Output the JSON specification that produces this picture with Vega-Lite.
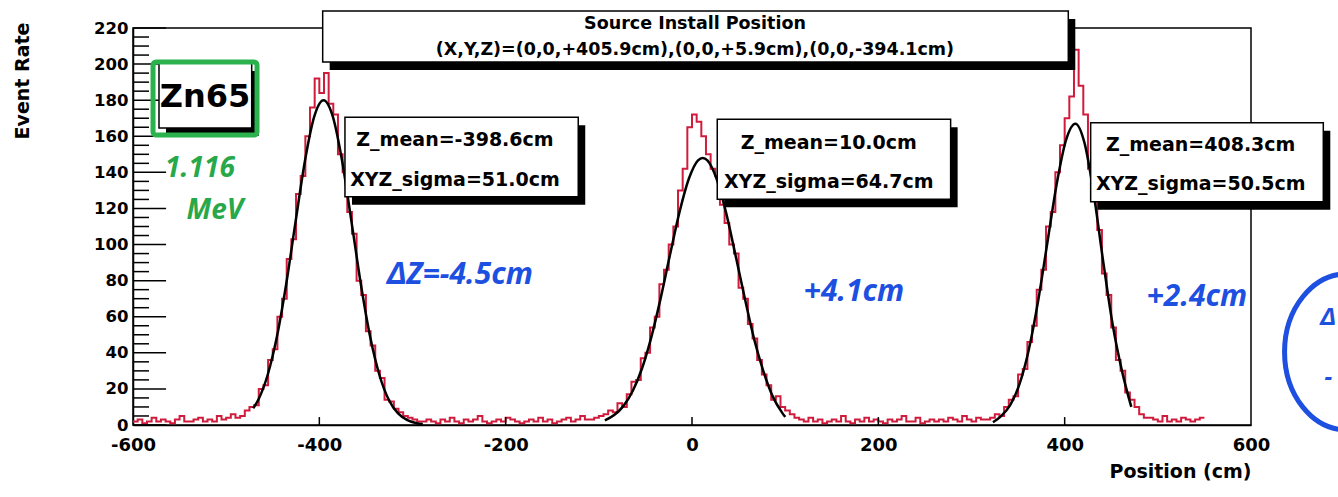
{
"$schema":"https://vega.github.io/schema/vega-lite/v6.json",
"width":1118,"height":397,
"autosize":{"type":"none"},
"padding":{"left":133,"top":28,"right":87,"bottom":72},
"background":"white",
"config":{"font":"DejaVu Sans","view":{"stroke":"#000","strokeWidth":1.5},
"axis":{"labelFont":"DejaVu Sans","labelFontWeight":"bold","labelColor":"#000","titleFont":"DejaVu Sans","titleFontWeight":"bold","titleColor":"#000","domainColor":"#000","domainWidth":1.5,"ticks":false,"grid":false,"labelOverlap":false,"labelBound":false}},
"datasets":{
"hist":[
{"x":-600,"y":2},{"x":-595,"y":3},{"x":-590,"y":1},{"x":-585,"y":2},{"x":-580,"y":4},{"x":-575,"y":2},{"x":-570,"y":3},{"x":-565,"y":2},{"x":-560,"y":1},{"x":-555,"y":3},{"x":-550,"y":5},{"x":-545,"y":2},{"x":-540,"y":2},{"x":-535,"y":3},{"x":-530,"y":4},{"x":-525,"y":2},{"x":-520,"y":3},{"x":-515,"y":2},{"x":-510,"y":5},{"x":-505,"y":3},{"x":-500,"y":4},{"x":-495,"y":6},{"x":-490,"y":4},
{"x":-485,"y":5},{"x":-480,"y":8},{"x":-475,"y":10},{"x":-470,"y":11},{"x":-465,"y":20},{"x":-460,"y":22},{"x":-455,"y":36},{"x":-450,"y":42},{"x":-445,"y":60},{"x":-440,"y":70},{"x":-435,"y":92},{"x":-430,"y":103},{"x":-425,"y":128},{"x":-420,"y":138},{"x":-415,"y":160},{"x":-410,"y":176},{"x":-405,"y":192},{"x":-400,"y":184},{"x":-395,"y":195},{"x":-390,"y":178},{"x":-385,"y":172},{"x":-380,"y":150},{"x":-375,"y":140},{"x":-370,"y":118},{"x":-365,"y":106},{"x":-360,"y":80},{"x":-355,"y":72},{"x":-350,"y":52},{"x":-345,"y":44},{"x":-340,"y":30},{"x":-335,"y":26},{"x":-330,"y":14},{"x":-325,"y":13},{"x":-320,"y":9},{"x":-315,"y":7},{"x":-310,"y":5},{"x":-305,"y":4},{"x":-300,"y":3},{"x":-295,"y":2},
{"x":-290,"y":2},{"x":-285,"y":3},{"x":-280,"y":2},{"x":-275,"y":1},{"x":-270,"y":3},{"x":-265,"y":2},{"x":-260,"y":4},{"x":-255,"y":2},{"x":-250,"y":1},{"x":-245,"y":3},{"x":-240,"y":2},{"x":-235,"y":3},{"x":-230,"y":5},{"x":-225,"y":2},{"x":-220,"y":1},{"x":-215,"y":2},{"x":-210,"y":3},{"x":-205,"y":2},{"x":-200,"y":4},{"x":-195,"y":3},{"x":-190,"y":2},{"x":-185,"y":1},{"x":-180,"y":2},{"x":-175,"y":3},{"x":-170,"y":2},{"x":-165,"y":4},{"x":-160,"y":2},{"x":-155,"y":3},{"x":-150,"y":1},{"x":-145,"y":2},{"x":-140,"y":3},{"x":-135,"y":4},{"x":-130,"y":2},{"x":-125,"y":3},{"x":-120,"y":5},{"x":-115,"y":3},
{"x":-110,"y":3},{"x":-105,"y":4},{"x":-100,"y":5},{"x":-95,"y":6},{"x":-90,"y":8},{"x":-85,"y":7},{"x":-80,"y":12},{"x":-75,"y":10},{"x":-70,"y":17},{"x":-65,"y":24},{"x":-60,"y":25},{"x":-55,"y":37},{"x":-50,"y":40},{"x":-45,"y":54},{"x":-40,"y":60},{"x":-35,"y":78},{"x":-30,"y":86},{"x":-25,"y":100},{"x":-20,"y":110},{"x":-15,"y":130},{"x":-10,"y":142},{"x":-5,"y":165},{"x":0,"y":172},{"x":5,"y":168},{"x":10,"y":160},{"x":15,"y":150},{"x":20,"y":142},{"x":25,"y":138},{"x":30,"y":122},{"x":35,"y":112},{"x":40,"y":100},{"x":45,"y":95},{"x":50,"y":76},{"x":55,"y":70},{"x":60,"y":56},{"x":65,"y":48},{"x":70,"y":36},{"x":75,"y":28},{"x":80,"y":22},{"x":85,"y":14},{"x":90,"y":16},{"x":95,"y":10},{"x":100,"y":8},{"x":105,"y":6},{"x":110,"y":4},
{"x":115,"y":3},{"x":120,"y":2},{"x":125,"y":4},{"x":130,"y":2},{"x":135,"y":3},{"x":140,"y":1},{"x":145,"y":2},{"x":150,"y":3},{"x":155,"y":2},{"x":160,"y":5},{"x":165,"y":2},{"x":170,"y":1},{"x":175,"y":3},{"x":180,"y":2},{"x":185,"y":4},{"x":190,"y":2},{"x":195,"y":3},{"x":200,"y":2},{"x":205,"y":1},{"x":210,"y":3},{"x":215,"y":2},{"x":220,"y":3},{"x":225,"y":5},{"x":230,"y":2},{"x":235,"y":2},{"x":240,"y":4},{"x":245,"y":1},{"x":250,"y":2},{"x":255,"y":3},{"x":260,"y":2},{"x":265,"y":3},{"x":270,"y":2},{"x":275,"y":4},{"x":280,"y":3},{"x":285,"y":2},{"x":290,"y":5},{"x":295,"y":3},{"x":300,"y":2},{"x":305,"y":4},{"x":310,"y":3},
{"x":315,"y":3},{"x":320,"y":4},{"x":325,"y":6},{"x":330,"y":5},{"x":335,"y":10},{"x":340,"y":14},{"x":345,"y":16},{"x":350,"y":28},{"x":355,"y":31},{"x":360,"y":46},{"x":365,"y":55},{"x":370,"y":75},{"x":375,"y":86},{"x":380,"y":110},{"x":385,"y":118},{"x":390,"y":140},{"x":395,"y":155},{"x":400,"y":170},{"x":405,"y":182},{"x":410,"y":208},{"x":415,"y":188},{"x":420,"y":172},{"x":425,"y":142},{"x":430,"y":125},{"x":435,"y":108},{"x":440,"y":84},{"x":445,"y":72},{"x":450,"y":54},{"x":455,"y":36},{"x":460,"y":30},{"x":465,"y":18},{"x":470,"y":14},{"x":475,"y":10},{"x":480,"y":6},{"x":485,"y":4},
{"x":490,"y":4},{"x":495,"y":3},{"x":500,"y":2},{"x":505,"y":5},{"x":510,"y":2},{"x":515,"y":3},{"x":520,"y":2},{"x":525,"y":4},{"x":530,"y":3},{"x":535,"y":2},{"x":540,"y":3},{"x":545,"y":4},{"x":550,"y":4}
],
"fit":[
{"peak":"L","x":-471,"y":9.3},{"peak":"L","x":-465.5,"y":14},{"peak":"L","x":-455.5,"y":27.7},{"peak":"L","x":-445.5,"y":49},{"peak":"L","x":-435.5,"y":78.3},{"peak":"L","x":-425.5,"y":112.7},{"peak":"L","x":-415.5,"y":146.2},{"peak":"L","x":-405.5,"y":170.9},{"peak":"L","x":-395.5,"y":180},{"peak":"L","x":-385.5,"y":170.9},{"peak":"L","x":-375.5,"y":146.2},{"peak":"L","x":-365.5,"y":112.7},{"peak":"L","x":-355.5,"y":78.3},{"peak":"L","x":-345.5,"y":49},{"peak":"L","x":-335.5,"y":27.7},{"peak":"L","x":-325.5,"y":14},{"peak":"L","x":-315.5,"y":6.4},{"peak":"L","x":-305.5,"y":2.7},{"peak":"L","x":-295.5,"y":1},{"peak":"L","x":-289,"y":0.5},
{"peak":"M","x":-93.5,"y":2.6},{"peak":"M","x":-83.5,"y":5.5},{"peak":"M","x":-73.5,"y":10.6},{"peak":"M","x":-63.5,"y":19},{"peak":"M","x":-53.5,"y":31.6},{"peak":"M","x":-43.5,"y":49},{"peak":"M","x":-33.5,"y":70.6},{"peak":"M","x":-23.5,"y":94.6},{"peak":"M","x":-13.5,"y":117.8},{"peak":"M","x":-3.5,"y":136.3},{"peak":"M","x":6.5,"y":146.7},{"peak":"M","x":11.5,"y":148},{"peak":"M","x":16.5,"y":146.7},{"peak":"M","x":26.5,"y":136.3},{"peak":"M","x":36.5,"y":117.8},{"peak":"M","x":46.5,"y":94.6},{"peak":"M","x":56.5,"y":70.6},{"peak":"M","x":66.5,"y":48},{"peak":"M","x":76.5,"y":30},{"peak":"M","x":86.5,"y":16},{"peak":"M","x":96.5,"y":7},{"peak":"M","x":100,"y":4.5},
{"peak":"R","x":323,"y":1.5},{"peak":"R","x":331.5,"y":4.8},{"peak":"R","x":341.5,"y":11},{"peak":"R","x":351.5,"y":22.6},{"peak":"R","x":361.5,"y":41.7},{"peak":"R","x":371.5,"y":68.7},{"peak":"R","x":381.5,"y":101.3},{"peak":"R","x":391.5,"y":133.7},{"peak":"R","x":401.5,"y":158},{"peak":"R","x":411.5,"y":167},{"peak":"R","x":421.5,"y":155.9},{"peak":"R","x":431.5,"y":127},{"peak":"R","x":441.5,"y":90.1},{"peak":"R","x":451.5,"y":55.7},{"peak":"R","x":461.5,"y":30},{"peak":"R","x":471.5,"y":10}
],
"ymaj":[{"v":0},{"v":20},{"v":40},{"v":60},{"v":80},{"v":100},{"v":120},{"v":140},{"v":160},{"v":180},{"v":200},{"v":220}],
"ymin":[{"v":5},{"v":10},{"v":15},{"v":25},{"v":30},{"v":35},{"v":45},{"v":50},{"v":55},{"v":65},{"v":70},{"v":75},{"v":85},{"v":90},{"v":95},{"v":105},{"v":110},{"v":115},{"v":125},{"v":130},{"v":135},{"v":145},{"v":150},{"v":155},{"v":165},{"v":170},{"v":175},{"v":185},{"v":190},{"v":195},{"v":205},{"v":210},{"v":215}],
"xmaj":[{"v":-400},{"v":-200},{"v":0},{"v":200},{"v":400}],
"boxes":[
{"x":-396.4,"x2":403.9,"y":229.4,"y2":201.2},
{"x":-372.5,"x2":-122.1,"y":170.5,"y2":126.5},
{"x":27.1,"x2":277.6,"y":169.4,"y2":125.1},
{"x":427.9,"x2":677.6,"y":167.5,"y2":123.7},
{"x":-572.1,"x2":-472.6,"y":200.6,"y2":164.6}
]
},
"layer":[
{"data":{"name":"hist"},"mark":{"type":"line","interpolate":"step-after","color":"#d01c3c","strokeWidth":2},
"encoding":{
"x":{"field":"x","type":"quantitative","scale":{"domain":[-600,600],"nice":false,"zero":false},
"axis":{"values":[-600,-400,-200,0,200,400,600],"tickCount":30,"labelExpr":"'' + datum.value","title":"Position (cm)","titleX":1118,"titleY":46,"titleAlign":"right","titleBaseline":"middle","titleFontSize":19,"labelFontSize":18,"labelPadding":11,"labelFlush":false,"labelOverlap":false,"ticks":false,"grid":false,"domainWidth":1.5,"domainColor":"#000"}},
"y":{"field":"y","type":"quantitative","scale":{"domain":[0,220],"nice":false,"zero":false},
"axis":{"values":[0,20,40,60,80,100,120,140,160,180,200,220],"tickCount":30,"labelExpr":"'' + datum.value","title":"Event Rate","titleX":-111,"titleY":-6,"titleAngle":270,"titleAlign":"right","titleBaseline":"middle","titleFontSize":19,"labelFontSize":16.5,"labelPadding":5,"labelOverlap":false,"ticks":false,"grid":false,"domainWidth":1.5,"domainColor":"#000"}}}},
{"data":{"name":"fit"},"mark":{"type":"line","interpolate":"monotone","color":"#000","strokeWidth":2.5},
"encoding":{"x":{"field":"x","type":"quantitative","scale":{"domain":[-600,600],"nice":false,"zero":false}},"y":{"field":"y","type":"quantitative","scale":{"domain":[0,220],"nice":false,"zero":false}},"detail":{"field":"peak"}}},
{"data":{"name":"ymaj"},"mark":{"type":"rule","color":"#000","strokeWidth":1.5},
"encoding":{"y":{"field":"v","type":"quantitative"},"x":{"datum":-600,"type":"quantitative"},"x2":{"datum":-564.5}}},
{"data":{"name":"ymin"},"mark":{"type":"rule","color":"#000","strokeWidth":1.5},
"encoding":{"y":{"field":"v","type":"quantitative"},"x":{"datum":-600,"type":"quantitative"},"x2":{"datum":-582.8}}},
{"data":{"name":"xmaj"},"mark":{"type":"rule","color":"#000","strokeWidth":1.5},
"encoding":{"x":{"field":"v","type":"quantitative"},"y":{"datum":0,"type":"quantitative"},"y2":{"datum":4.4}}},
{"data":{"name":"boxes"},"mark":{"type":"rect","fill":"#000","xOffset":7,"x2Offset":7,"yOffset":8,"y2Offset":8},
"encoding":{"x":{"field":"x","type":"quantitative"},"x2":{"field":"x2"},"y":{"field":"y","type":"quantitative"},"y2":{"field":"y2"}}},
{"data":{"name":"boxes"},"mark":{"type":"rect","fill":"#fff","stroke":"#000","strokeWidth":1.5},
"encoding":{"x":{"field":"x","type":"quantitative"},"x2":{"field":"x2"},"y":{"field":"y","type":"quantitative"},"y2":{"field":"y2"}}},
{"data":{"values":[{"t":"Source Install Position","x":3.2,"y":222.2},{"t":"(X,Y,Z)=(0,0,+405.9cm),(0,0,+5.9cm),(0,0,-394.1cm)","x":3.2,"y":207.8}]},
"mark":{"type":"text","font":"DejaVu Sans","fontWeight":"bold","fontSize":17.5,"align":"center","baseline":"middle","color":"#000"},
"encoding":{"x":{"field":"x","type":"quantitative"},"y":{"field":"y","type":"quantitative"},"text":{"field":"t"}}},
{"data":{"values":[{"t":"Z_mean=-398.6cm","x":-254.4,"y":157.9},{"t":"XYZ_sigma=51.0cm","x":-254.4,"y":135.8},{"t":"Z_mean=10.0cm","x":146.8,"y":156.1},{"t":"XYZ_sigma=64.7cm","x":146.8,"y":134.8},{"t":"Z_mean=408.3cm","x":546,"y":155.2},{"t":"XYZ_sigma=50.5cm","x":546,"y":133.4}]},
"mark":{"type":"text","font":"DejaVu Sans","fontWeight":"bold","fontSize":19,"align":"center","baseline":"middle","color":"#000"},
"encoding":{"x":{"field":"x","type":"quantitative"},"y":{"field":"y","type":"quantitative"},"text":{"field":"t"}}},
{"data":{"values":[{"t":"Zn65","x":-522.7,"y":181.8}]},
"mark":{"type":"text","font":"DejaVu Sans","fontWeight":"bold","fontSize":32,"align":"center","baseline":"middle","color":"#000"},
"encoding":{"x":{"field":"x","type":"quantitative"},"y":{"field":"y","type":"quantitative"},"text":{"field":"t"}}},
{"data":{"values":[{"x":-578.5,"x2":-466.9,"y":201.2,"y2":160.7}]},
"mark":{"type":"rect","fillOpacity":0,"stroke":"#2bb24c","strokeWidth":5,"cornerRadius":3},
"encoding":{"x":{"field":"x","type":"quantitative"},"x2":{"field":"x2"},"y":{"field":"y","type":"quantitative"},"y2":{"field":"y2"}}},
{"data":{"values":[{"t":"1.116","x":-528.1,"y":141.9},{"t":"MeV","x":-512,"y":118.6}]},
"mark":{"type":"text","font":"Noto Sans","fontWeight":"bold","fontStyle":"italic","fontSize":28,"align":"center","baseline":"middle","color":"#27a84a"},
"encoding":{"x":{"field":"x","type":"quantitative"},"y":{"field":"y","type":"quantitative"},"text":{"field":"t"}}},
{"data":{"values":[{"t":"ΔZ=-4.5cm","x":-249,"y":83.1},{"t":"+4.1cm","x":173.9,"y":73.7},{"t":"+2.4cm","x":542,"y":70.9}]},
"mark":{"type":"text","font":"Noto Sans","fontWeight":"bold","fontStyle":"italic","fontSize":30,"align":"center","baseline":"middle","color":"#1d4fe0"},
"encoding":{"x":{"field":"x","type":"quantitative"},"y":{"field":"y","type":"quantitative"},"text":{"field":"t"}}},
{"data":{"values":[{"t":"Δ","x":683,"y":59.3},{"t":"-","x":683,"y":26}]},
"mark":{"type":"text","font":"Noto Sans","fontWeight":"bold","fontStyle":"italic","fontSize":24,"align":"center","baseline":"middle","color":"#1d4fe0"},
"encoding":{"x":{"field":"x","type":"quantitative"},"y":{"field":"y","type":"quantitative"},"text":{"field":"t"}}},
{"data":{"values":[{"x":703,"y":40.5}]},
"mark":{"type":"point","shape":"M-0.8,0A0.8,1 0 1,1 0.8,0A0.8,1 0 1,1 -0.8,0Z","size":24336,"filled":false,"stroke":"#1d4fe0","strokeWidth":5,"opacity":1},
"encoding":{"x":{"field":"x","type":"quantitative"},"y":{"field":"y","type":"quantitative"}}}
]
}
